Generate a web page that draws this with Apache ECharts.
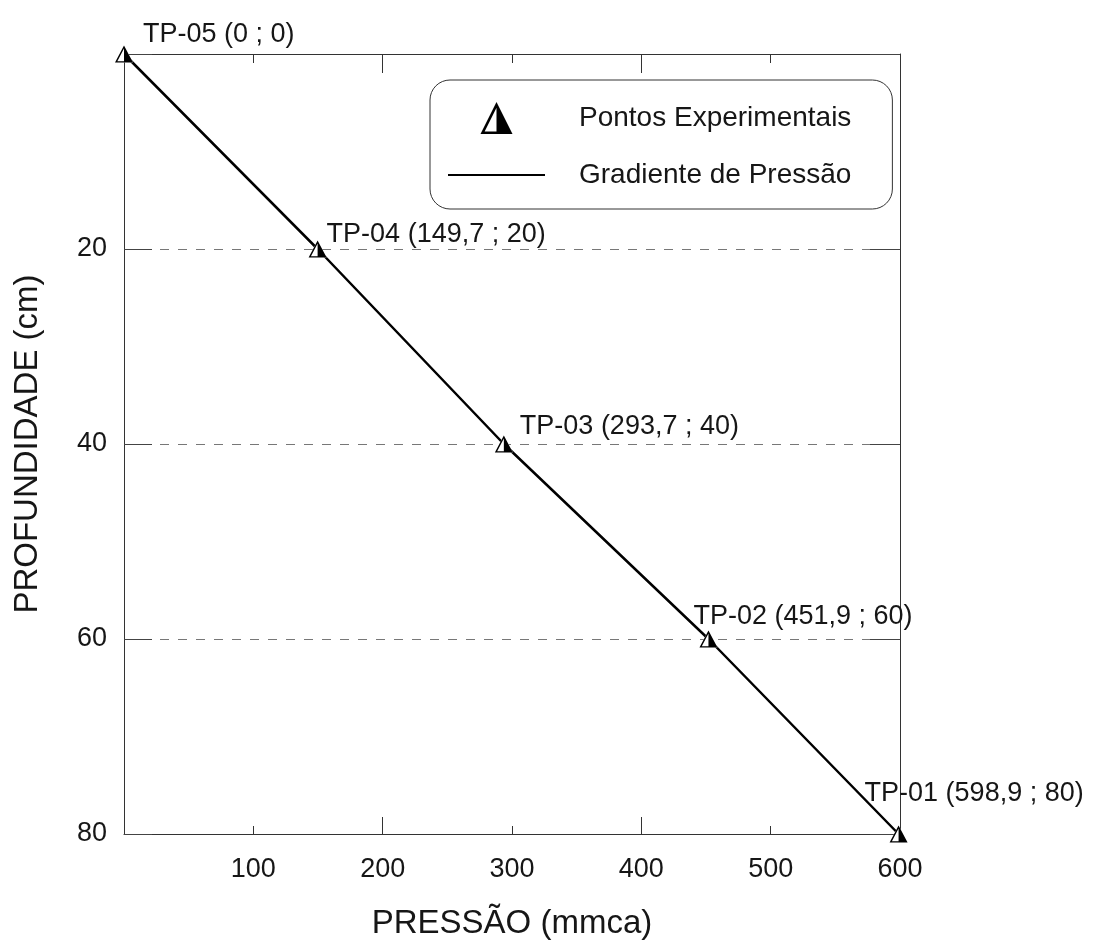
<html>

<head>
  <meta charset="utf-8">
  <title>Gradiente de Pressão</title>
  <script src="https://cdn.jsdelivr.net/npm/echarts@6.0.0/dist/echarts.min.js"></script>
  <style>
    html,
    body {
      margin: 0;
      background: #fff;
    }

    #chart {
      width: 1096px;
      height: 944px;
    }
  </style>
</head>

<body>
  <div id="chart"></div>
  <script>
    // dados dos pontos experimentais
    var pointNames = ['TP-05', 'TP-04', 'TP-03', 'TP-02', 'TP-01'];
    var pressure = [0, 149.7, 293.7, 451.9, 598.9];
    var depth = [0, 20, 40, 60, 80];
    var xTicks = [100, 200, 300, 400, 500, 600];
    var yTicks = [20, 40, 60, 80];

    // deslocamento de cada rótulo em relação ao ponto
    var labelOffsets = [[10, -19], [0, -14], [7, -17], [-24, -22], [-43, -40]];

    var FONT = 'Liberation Sans, Arial, sans-serif';
    var TEXT = '#161616';

    // triângulo com contorno e metade direita preenchida
    var halfTriangle = 'path://M50,0 L100,100 L0,100 Z ' +
      'M50,17.9 L12.95,92 L87.05,92 Z ' +
      'M50,0 L100,100 L50,100 Z';
    var lineIcon = 'path://M0,0 L100,0 L100,2.2 L0,2.2 Z';

    function fmt(v) {
      return String(v).replace('.', ',');
    }

    var points = [];
    var linePts = [];
    for (var i = 0; i < pressure.length; i++) {
      linePts.push([pressure[i], depth[i]]);
      points.push({
        value: [pressure[i], depth[i]],
        label: {
          formatter: pointNames[i] + ' (' + fmt(pressure[i]) + ' ; ' + fmt(depth[i]) + ')',
          offset: labelOffsets[i]
        }
      });
    }

    var myChart = echarts.init(document.getElementById('chart'));

    var baseX = {
      type: 'value',
      min: 0,
      max: 600,
      splitLine: { show: false }
    };

    var option = {
      backgroundColor: '#fff',
      animation: false,
      textStyle: { fontFamily: FONT },
      grid: {
        left: 124,
        top: 54,
        width: 776,
        height: 780,
        containLabel: false,
        outerBoundsMode: 'none'
      },
      legend: {
        data: [
          { name: 'Pontos Experimentais' },
          { name: 'Gradiente de Pressão', icon: lineIcon }
        ],
        orient: 'vertical',
        left: 430,
        top: 80,
        itemWidth: 97,
        itemHeight: 32,
        itemGap: 27,
        padding: [22, 41, 20, 18],
        borderColor: '#333',
        borderWidth: 1,
        borderRadius: 20,
        selectedMode: false,
        textStyle: {
          fontSize: 28,
          color: TEXT,
          fontFamily: FONT,
          padding: [0, 0, 0, 29]
        }
      },
      xAxis: [
        Object.assign({}, baseX, {
          position: 'bottom',
          interval: 200,
          axisLine: { onZero: false, lineStyle: { color: '#333', width: 1 } },
          axisTick: { inside: true, length: 17, lineStyle: { color: '#333' } },
          minorTick: { show: true, splitNumber: 2, length: 8, lineStyle: { color: '#333' } },
          axisLabel: { show: false }
        }),
        Object.assign({}, baseX, {
          position: 'bottom',
          interval: 100,
          axisLine: { show: false, onZero: false },
          axisTick: { show: false },
          axisLabel: {
            margin: 22,
            fontSize: 27,
            color: TEXT,
            formatter: function (v) {
              return xTicks.indexOf(v) >= 0 ? String(v) : '';
            }
          },
          name: 'PRESSÃO (mmca)',
          nameLocation: 'middle',
          nameGap: 73,
          nameTextStyle: { fontSize: 33, color: TEXT }
        }),
        Object.assign({}, baseX, {
          position: 'top',
          interval: 200,
          axisLine: { onZero: false, lineStyle: { color: '#333', width: 1 } },
          axisTick: { inside: true, length: 19, lineStyle: { color: '#333' } },
          minorTick: { show: true, splitNumber: 2, length: 9, lineStyle: { color: '#333' } },
          axisLabel: { show: false }
        })
      ],
      yAxis: [
        {
          type: 'value',
          inverse: true,
          min: 0,
          max: 80,
          interval: 20,
          position: 'left',
          axisLine: { show: true, onZero: false, lineStyle: { color: '#333', width: 1 } },
          axisTick: { show: true, inside: true, length: 28, lineStyle: { color: '#444' } },
          axisLabel: {
            margin: 17,
            fontSize: 27,
            color: TEXT,
            formatter: function (v) {
              return yTicks.indexOf(v) >= 0 ? String(v) : '';
            }
          },
          splitLine: {
            show: true,
            lineStyle: { color: '#777', width: 1, type: [9, 9] }
          },
          name: 'PROFUNDIDADE (cm)',
          nameLocation: 'middle',
          nameRotate: 90,
          nameGap: 80,
          nameTextStyle: { fontSize: 33, color: TEXT }
        },
        {
          type: 'value',
          inverse: true,
          min: 0,
          max: 80,
          interval: 20,
          position: 'right',
          axisLine: { show: true, onZero: false, lineStyle: { color: '#333', width: 1 } },
          axisTick: { show: true, inside: true, length: 30, lineStyle: { color: '#444' } },
          axisLabel: { show: false },
          splitLine: { show: false }
        }
      ],
      series: [
        {
          name: 'Gradiente de Pressão',
          type: 'line',
          xAxisIndex: 0,
          yAxisIndex: 0,
          data: linePts,
          symbol: 'none',
          z: 2,
          itemStyle: { color: '#000' },
          lineStyle: { color: '#000', width: 2.5 }
        },
        {
          name: 'fundo',
          type: 'scatter',
          xAxisIndex: 0,
          yAxisIndex: 0,
          data: linePts,
          symbol: 'triangle',
          symbolSize: [18, 17],
          silent: true,
          z: 3,
          itemStyle: { color: '#fff', opacity: 1 }
        },
        {
          name: 'Pontos Experimentais',
          type: 'scatter',
          xAxisIndex: 0,
          yAxisIndex: 0,
          data: points,
          symbol: halfTriangle,
          symbolSize: [18, 17],
          z: 4,
          itemStyle: { color: '#000', opacity: 1 },
          label: {
            show: true,
            position: 'right',
            distance: 0,
            fontSize: 27,
            color: TEXT,
            fontFamily: FONT
          }
        }
      ]
    };

    myChart.setOption(option);
  </script>
</body>

</html>
